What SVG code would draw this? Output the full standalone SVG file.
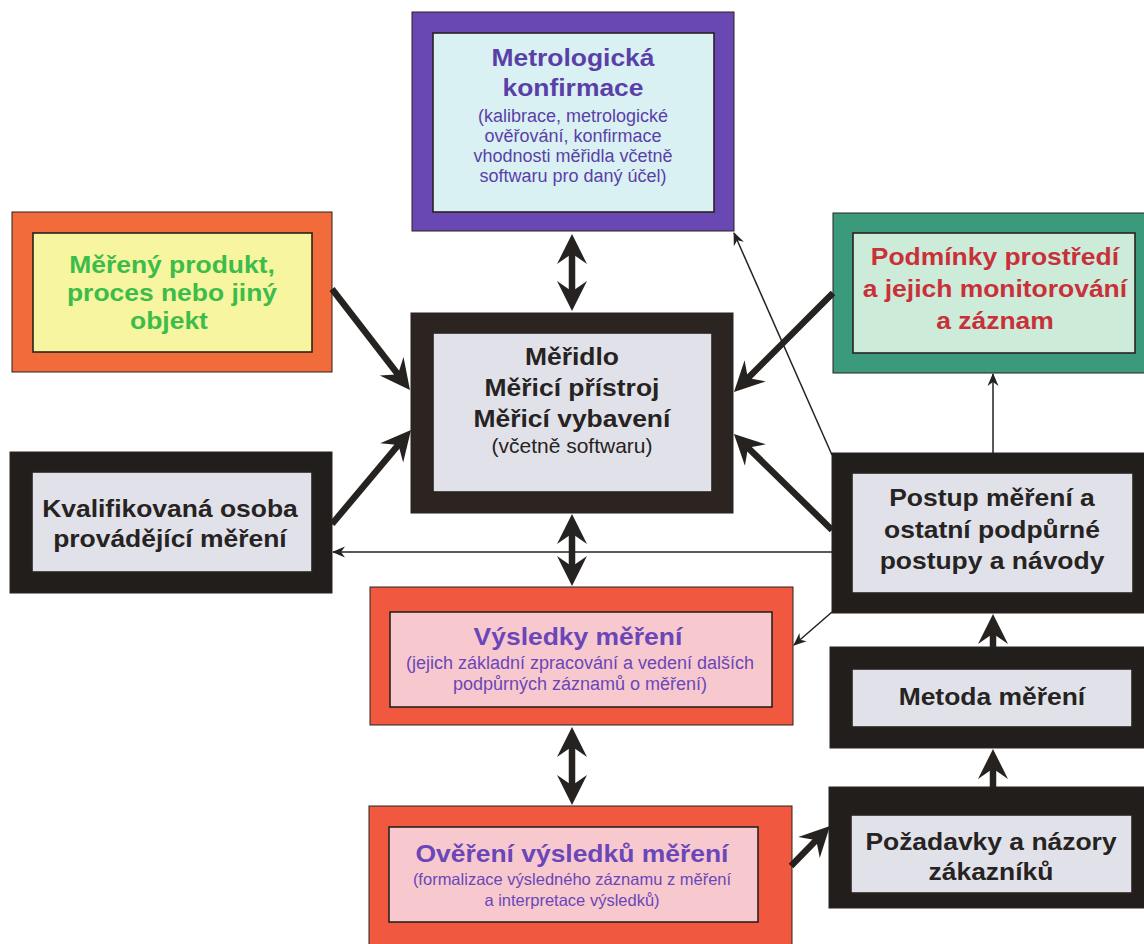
<svg xmlns="http://www.w3.org/2000/svg" width="1144" height="944" viewBox="0 0 1144 944">
<style>
.o{stroke:#2a2220;stroke-width:1}
.i{stroke:#2a2220;stroke-width:1.6}
.t{font-family:"Liberation Sans",Arial,sans-serif;font-weight:bold;font-size:23px;text-anchor:middle;transform-box:fill-box;transform-origin:center;transform:scaleX(1.15)}
.s{font-family:"Liberation Sans",Arial,sans-serif;font-size:18px;text-anchor:middle}
.dk{fill:#262322}
.pu{fill:#5b3fa8}
.pu2{fill:#6a46b8}
.gr{fill:#3cbc4a}
.rd{fill:#c8303a}
.thick{stroke:#262220;stroke-width:6.5;fill:none}
.thin{stroke:#262220;stroke-width:1.5;fill:none}
</style>
<defs>
<marker id="ah" markerUnits="userSpaceOnUse" viewBox="-16 -16 34 32" refX="0" refY="0" markerWidth="34" markerHeight="32" orient="auto-start-reverse">
<path d="M16,0 L-14,-15 L-5,-2 L-5,2 L-14,15 Z" fill="#262220"/>
</marker>
<marker id="as" markerUnits="userSpaceOnUse" viewBox="-14 -7 16 14" refX="0" refY="0" markerWidth="16" markerHeight="14" orient="auto">
<path d="M1,0 L-12,-5.5 L-8,0 L-12,5.5 Z" fill="#262220"/>
</marker>
</defs>
<rect width="1144" height="944" fill="#ffffff"/>

<g id="n-metrologicka">
<rect class="o" x="412" y="12" width="322" height="219" fill="#6a48b4"/>
<rect class="i" x="433" y="33" width="281" height="179" fill="#d9f1f3"/>
<text class="t pu" x="573" y="66">Metrologická</text>
<text class="t pu" x="573" y="96">konfirmace</text>
<text class="s pu" x="573" y="122">(kalibrace, metrologické</text>
<text class="s pu" x="573" y="142">ověřování, konfirmace</text>
<text class="s pu" x="573" y="162">vhodnosti měřidla včetně</text>
<text class="s pu" x="573" y="182">softwaru pro daný účel)</text>
</g>

<g id="n-produkt">
<rect class="o" x="12" y="212" width="320" height="160" fill="#f26b3a"/>
<rect class="i" x="33" y="233" width="279" height="119" fill="#f7f59f"/>
<text class="t gr" x="172" y="273">Měřený produkt,</text>
<text class="t gr" x="172" y="301">proces nebo jiný</text>
<text class="t gr" x="169" y="329">objekt</text>
</g>

<g id="n-meridlo">
<rect class="o" x="411" y="313" width="322" height="200" fill="#2b2421"/>
<rect class="i" x="433" y="333" width="279" height="159" fill="#e1e1e9"/>
<text class="t dk" x="572" y="365">Měřidlo</text>
<text class="t dk" x="572" y="396">Měřicí přístroj</text>
<text class="t dk" x="572" y="427">Měřicí vybavení</text>
<text class="s dk" x="572" y="453" style="font-size:21px">(včetně softwaru)</text>
</g>

<g id="n-podminky">
<rect class="o" x="833" y="213" width="320" height="160" fill="#3b9a7c"/>
<rect class="i" x="853" y="233" width="282" height="120" fill="#cdebd9"/>
<text class="t rd" x="995" y="265">Podmínky prostředí</text>
<text class="t rd" x="995" y="297">a jejich monitorování</text>
<text class="t rd" x="995" y="329">a záznam</text>
</g>

<g id="n-osoba">
<rect class="o" x="10" y="452" width="322" height="141" fill="#221e1c"/>
<rect class="i" x="32" y="472" width="280" height="100" fill="#e1e1e9"/>
<text class="t dk" x="170" y="517">Kvalifikovaná osoba</text>
<text class="t dk" x="170" y="547">provádějící měření</text>
</g>

<g id="n-postup">
<rect class="o" x="832" y="453" width="320" height="160" fill="#221e1c"/>
<rect class="i" x="852" y="473" width="281" height="120" fill="#e1e1e9"/>
<text class="t dk" x="992" y="506">Postup měření a</text>
<text class="t dk" x="992" y="538">ostatní podpůrné</text>
<text class="t dk" x="992" y="569">postupy a návody</text>
</g>

<g id="n-vysledky">
<rect class="o" x="370" y="587" width="423" height="138" fill="#f0583f"/>
<rect class="i" x="390" y="612" width="382" height="95" fill="#f7c9cf"/>
<text class="t pu2" x="578" y="645">Výsledky měření</text>
<text class="s pu2" x="580" y="669">(jejich základní zpracování a vedení dalších</text>
<text class="s pu2" x="580" y="690">podpůrných záznamů o měření)</text>
</g>

<g id="n-metoda">
<rect class="o" x="830" y="647" width="320" height="101" fill="#221e1c"/>
<rect class="i" x="852" y="669" width="280" height="58" fill="#e1e1e9"/>
<text class="t dk" x="992" y="705">Metoda měření</text>
</g>

<g id="n-overeni">
<rect class="o" x="369" y="806" width="423" height="150" fill="#f0583f"/>
<rect class="i" x="389" y="827" width="369" height="95" fill="#f7c9cf"/>
<text class="t pu2" x="572" y="862">Ověření výsledků měření</text>
<text class="s pu2" x="572" y="885" style="font-size:16.5px">(formalizace výsledného záznamu z měření</text>
<text class="s pu2" x="572" y="906" style="font-size:16.5px">a interpretace výsledků)</text>
</g>

<g id="n-pozadavky">
<rect class="o" x="829" y="787" width="320" height="121" fill="#221e1c"/>
<rect class="i" x="851" y="815" width="281" height="78" fill="#e1e1e9"/>
<text class="t dk" x="991" y="850">Požadavky a názory</text>
<text class="t dk" x="991" y="880">zákazníků</text>
</g>

<g id="connectors">
<path class="thick" d="M572,250 L572,295" marker-start="url(#ah)" marker-end="url(#ah)"/>
<path class="thick" d="M572,530 L572,570" marker-start="url(#ah)" marker-end="url(#ah)"/>
<path class="thick" d="M572,743 L572,789" marker-start="url(#ah)" marker-end="url(#ah)"/>
<path class="thick" d="M332,289 L400.2,377.3" marker-end="url(#ah)"/>
<path class="thick" d="M332,524 L400.7,442.2" marker-end="url(#ah)"/>
<path class="thick" d="M833,293 L745.3,380.7" marker-end="url(#ah)"/>
<path class="thick" d="M832,530 L745.4,445.2" marker-end="url(#ah)"/>
<path class="thick" d="M993,647 L993,630" marker-end="url(#ah)"/>
<path class="thick" d="M993,787 L993,765" marker-end="url(#ah)"/>
<path class="thick" d="M791,866 L818.8,837.5" marker-end="url(#ah)"/>
<path class="thin" d="M832,455 L734,233" marker-end="url(#as)"/>
<path class="thin" d="M832,552 L333,552" marker-end="url(#as)"/>
<path class="thin" d="M993,453 L993,374" marker-end="url(#as)"/>
<path class="thin" d="M832,612 L794,645" marker-end="url(#as)"/>
</g>
</svg>
